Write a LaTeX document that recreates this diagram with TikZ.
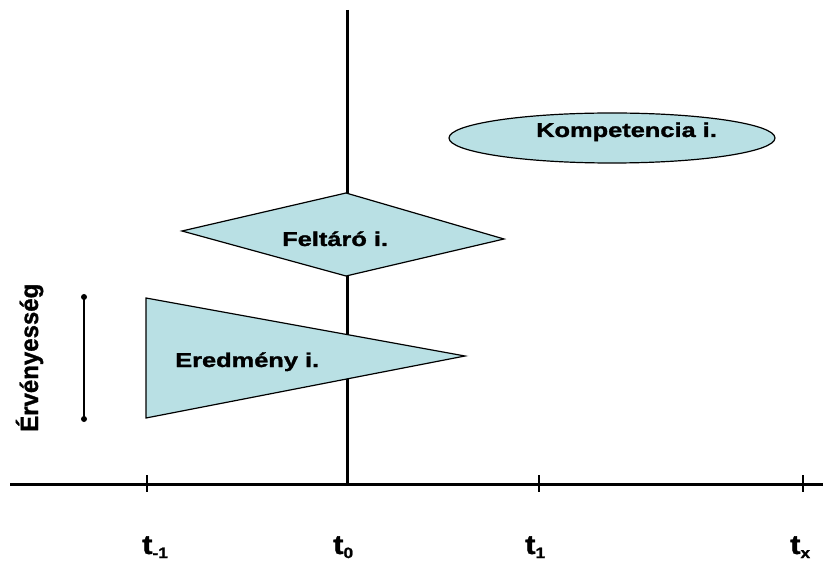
\documentclass[tikz,border=0pt]{standalone}
\usepackage{fontspec}
\setmainfont[BoldFont={Liberation Sans Bold},BoldFeatures={FakeBold=1.2}]{Liberation Sans}
\usetikzlibrary{shapes.geometric}
\definecolor{shapefill}{RGB}{185,224,228}
\newcommand{\wide}[2][1.27]{\scalebox{#1}[1]{#2}}
\newcommand{\tlabel}[2]{\scalebox{1.15}[1]{t\raisebox{-0.15em}{\fontsize{15}{15}\selectfont #2}}}
\begin{document}
\begin{tikzpicture}[x=1pt,y=-1pt,
  lbl/.style={font=\bfseries\fontsize{20}{24}\selectfont, inner sep=0pt},
  tlbl/.style={font=\bfseries\fontsize{27}{30}\selectfont, inner sep=0pt, anchor=base west},
  shp/.style={draw=black, line width=1.2pt, fill=shapefill},
  axisline/.style={line width=3pt},
  tick/.style={line width=2.5pt},
  bar/.style={line width=1.8pt},
  enddot/.style={circle, fill=black, inner sep=0pt, minimum size=6pt}]
\useasboundingbox (0,0) rectangle (833,561);
% axes
\coordinate (vtop) at (347,10);
\coordinate (origin) at (347,484);
\coordinate (hleft) at (10,484);
\coordinate (hright) at (823,484);
\draw[axisline] (vtop) -- (origin);
\draw[axisline] (hleft) -- (hright);
% ticks
\foreach \x/\n in {147/a,539/b,803/c}{
  \coordinate (tk\n top) at (\x,475);
  \coordinate (tk\n bot) at (\x,492);
  \draw[tick] (tk\n top) -- (tk\n bot);
}
% axis labels
\node[tlbl] (tm1) at (142,554) {\tlabel{t}{-1}};
\node[tlbl] (t0) at (333,554) {\tlabel{t}{0}};
\node[tlbl] (t1) at (525,554) {\tlabel{t}{1}};
\node[tlbl] (tx) at (790,554) {\tlabel{t}{x}};
% validity bar
\node[enddot] (vb1) at (84,297) {};
\node[enddot] (vb2) at (84,419) {};
\draw[bar] (vb1.center) -- (vb2.center);
\node[font=\bfseries\fontsize{25}{28}\selectfont, inner sep=0pt, rotate=90, anchor=base west] (erv) at (38,432) {\wide[0.96]{Érvényesség}};
% Eredmeny triangle
\coordinate (e1) at (146,298);
\coordinate (e2) at (465,356);
\coordinate (e3) at (146,418);
\draw[shp] (e1) -- (e2) -- (e3) -- cycle;
\node[lbl, anchor=base west] (ered) at (175,367) {\wide{Eredmény i.}};
% Feltaro diamond
\coordinate (f1) at (182,231);
\coordinate (f2) at (346,193);
\coordinate (f3) at (504,239);
\coordinate (f4) at (346,276);
\draw[shp] (f1) -- (f2) -- (f3) -- (f4) -- cycle;
\node[lbl, anchor=base west] (felt) at (282,246) {\wide{Feltáró i.}};
% Kompetencia ellipse
\node[ellipse, shp, minimum width=326pt, minimum height=50pt, inner sep=0pt] (komp) at (612,138) {};
\node[lbl, anchor=base west] (komptxt) at (536,137) {\wide{Kompetencia i.}};
\end{tikzpicture}
\end{document}
